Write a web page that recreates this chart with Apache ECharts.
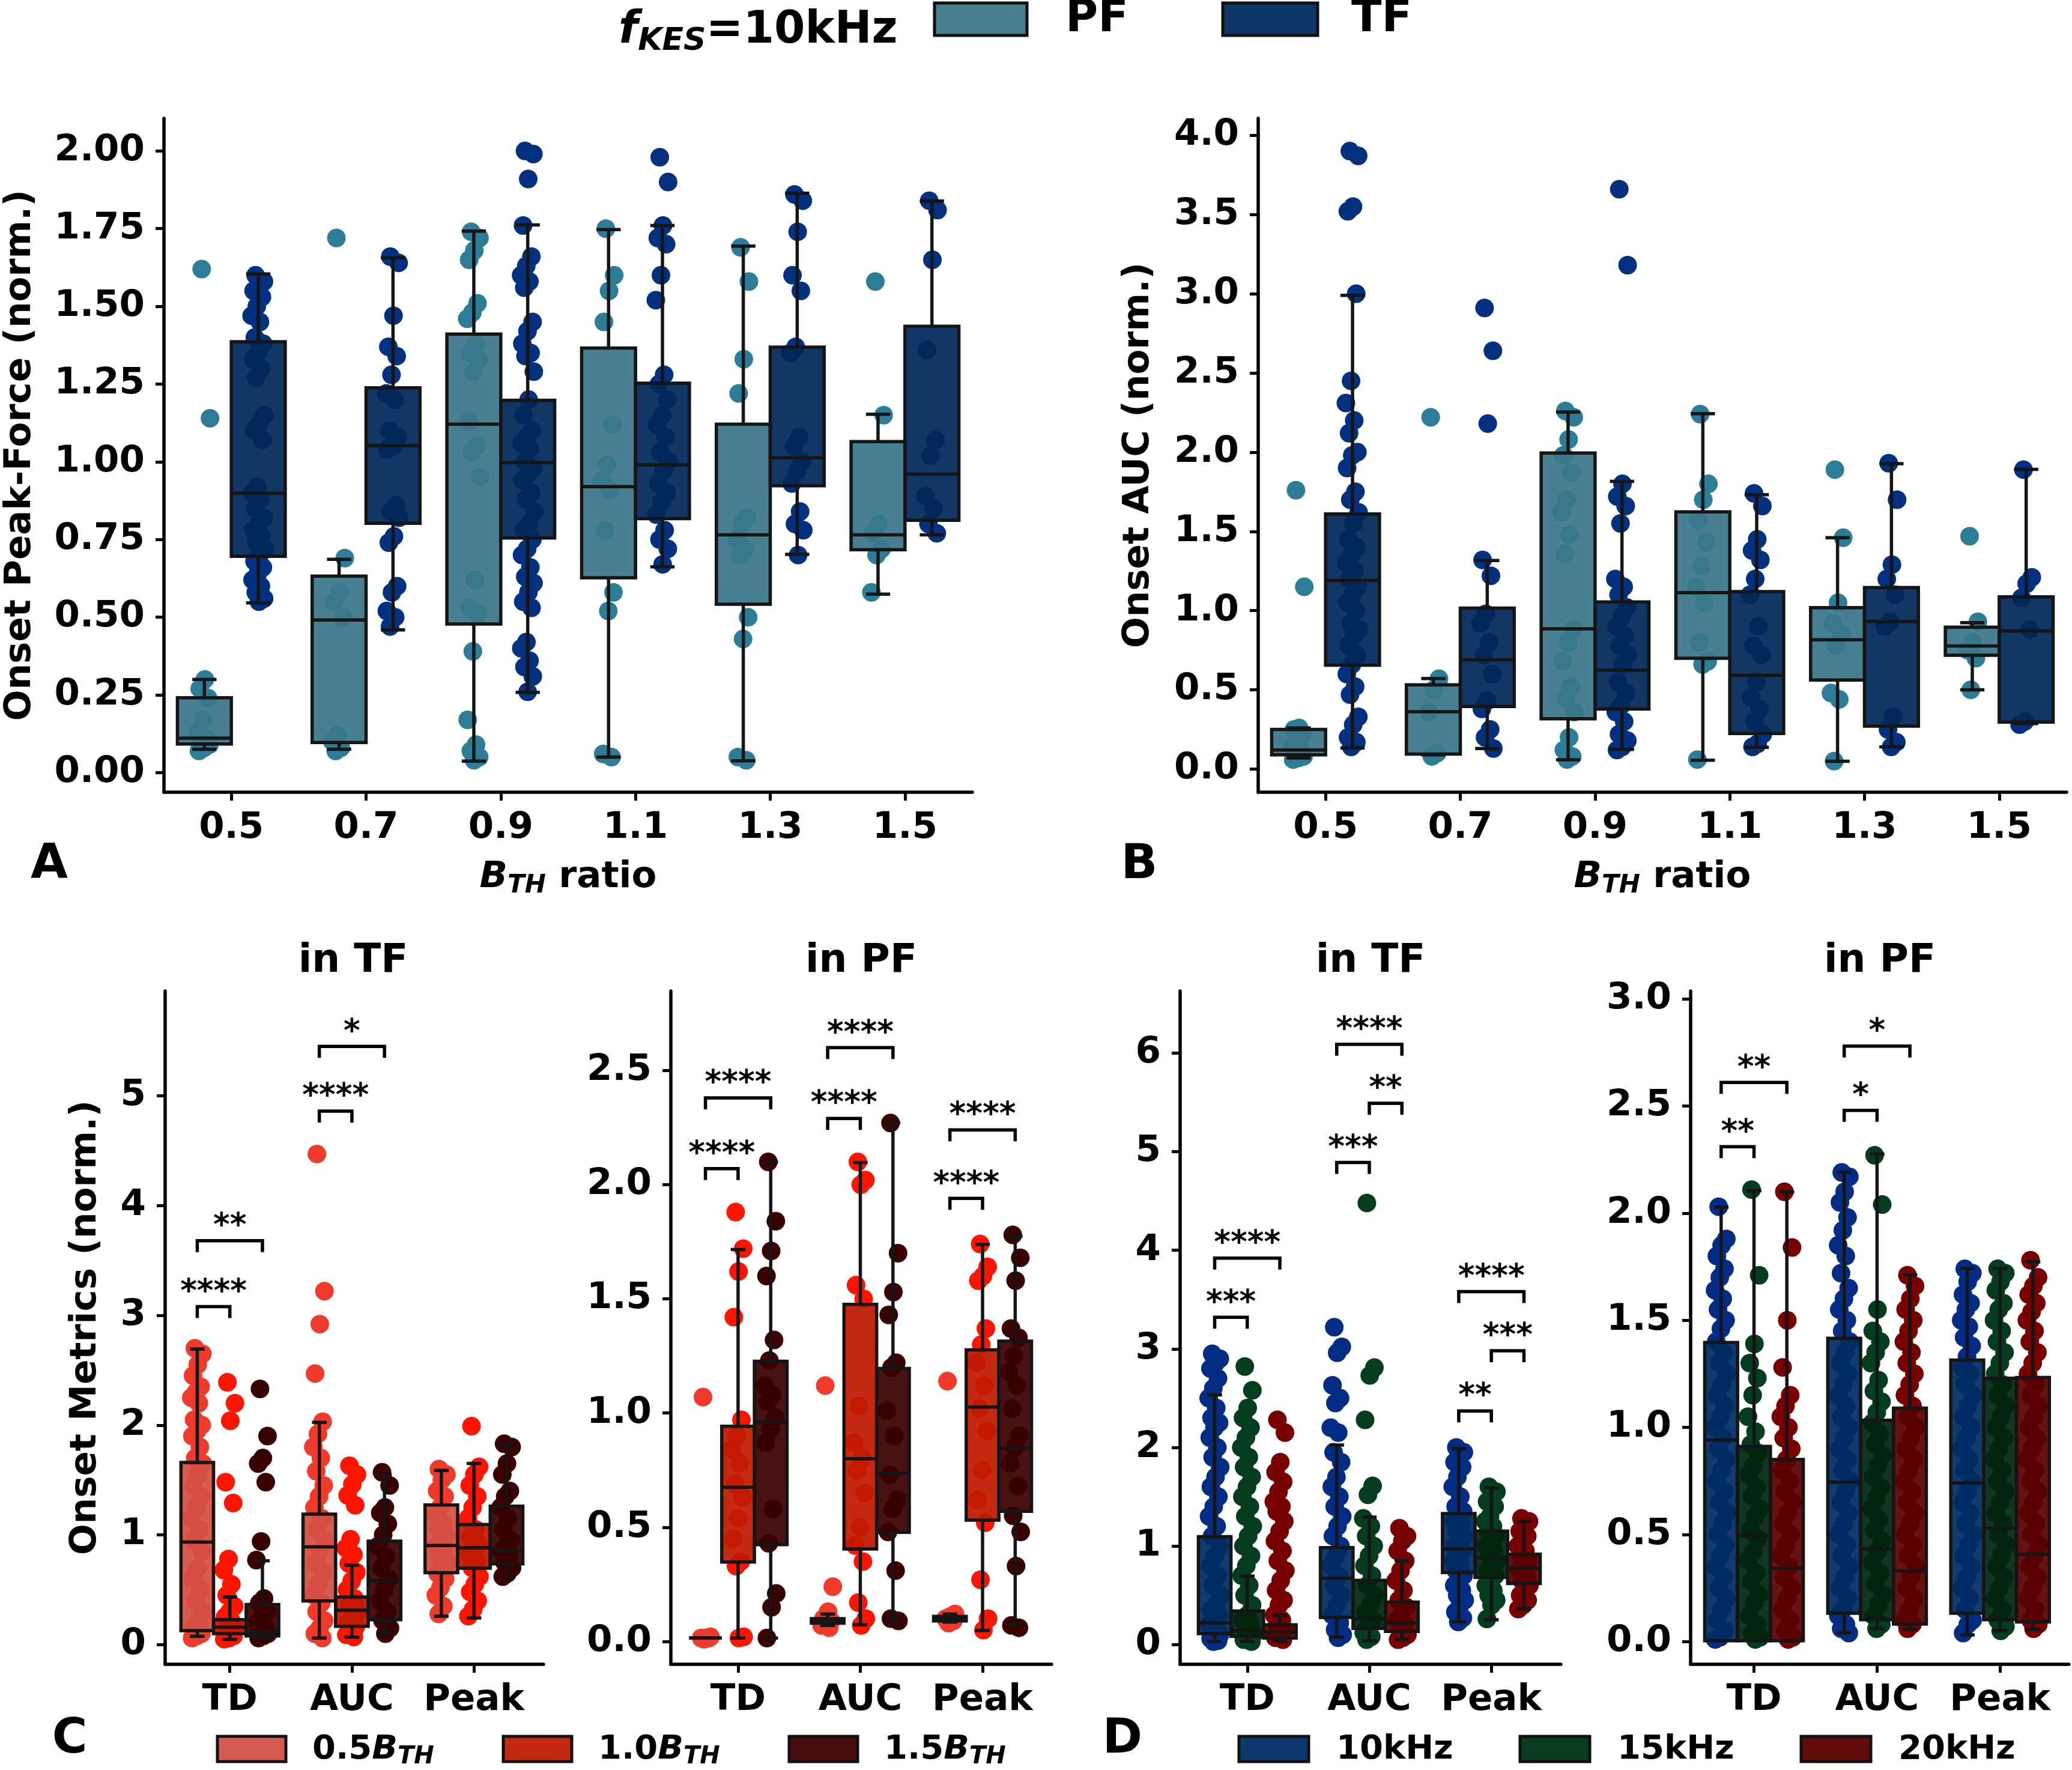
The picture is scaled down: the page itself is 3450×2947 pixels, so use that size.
<!DOCTYPE html>
<html>
<head>
<meta charset="utf-8">
<script src="https://cdn.jsdelivr.net/npm/echarts@6/dist/echarts.min.js"></script>
<style>
  html, body { margin: 0; background: #fff; }
  #chart { width: 3450px; height: 2947px; }
</style>
</head>
<body>
<div id="chart"></div>
<script>
// ===== panels A / B : onset metrics vs B_TH ratio =====
const ratioLabels = ['0.5', '0.7', '0.9', '1.1', '1.3', '1.5'];
const metricLabels = ['TD', 'AUC', 'Peak'];

// box stats: [lower whisker, q1, median, q3, upper whisker]
const peakBoxPF = [[0.075, 0.092, 0.111, 0.241, 0.30], [0.075, 0.097, 0.491, 0.632, 0.686], [0.037, 0.478, 1.121, 1.411, 1.742],
  [0.05, 0.627, 0.92, 1.366, 1.747], [0.038, 0.542, 0.765, 1.121, 1.694], [0.574, 0.717, 0.765, 1.065, 1.153]];
const peakBoxTF = [[0.546, 0.696, 0.899, 1.386, 1.604], [0.459, 0.802, 1.052, 1.238, 1.656], [0.258, 0.755, 0.998, 1.198, 1.762],
  [0.662, 0.817, 0.99, 1.253, 1.76], [0.702, 0.923, 1.013, 1.369, 1.864], [0.765, 0.812, 0.96, 1.436, 1.839]];
const aucBoxPF = [[0.07, 0.09, 0.12, 0.25, 0.26], [0.09, 0.095, 0.362, 0.532, 0.571], [0.059, 0.317, 0.885, 1.995, 2.253],
  [0.056, 0.699, 1.113, 1.623, 2.243], [0.049, 0.562, 0.816, 1.019, 1.46], [0.5, 0.718, 0.777, 0.895, 0.924]];
const aucBoxTF = [[0.134, 0.656, 1.19, 1.61, 2.99], [0.13, 0.395, 0.689, 1.016, 1.316], [0.124, 0.379, 0.624, 1.055, 1.816],
  [0.137, 0.225, 0.591, 1.12, 1.731], [0.14, 0.271, 0.931, 1.146, 1.927], [0.287, 0.297, 0.872, 1.087, 1.891]];

// individual trials
const peakPtsPF = [
  [1.62, 1.14, 0.30, 0.27, 0.24, 0.17, 0.13, 0.11, 0.10, 0.09, 0.08, 0.07],
  [1.72, 0.69, 0.58, 0.55, 0.50, 0.12, 0.10, 0.08, 0.07],
  [1.74, 1.72, 1.68, 1.65, 1.51, 1.48, 1.46, 1.38, 1.35, 1.33, 1.29, 1.13, 1.05, 1.03, 0.95, 0.62, 0.53, 0.51, 0.39, 0.17, 0.09, 0.07, 0.05, 0.04],
  [1.75, 1.60, 1.55, 1.45, 1.12, 0.99, 0.94, 0.91, 0.78, 0.58, 0.52, 0.06, 0.05],
  [1.69, 1.58, 1.33, 1.22, 0.82, 0.80, 0.75, 0.72, 0.70, 0.50, 0.43, 0.05, 0.04],
  [1.58, 1.15, 0.80, 0.77, 0.72, 0.70, 0.58]
];
const peakPtsTF = [
  [1.60, 1.58, 1.56, 1.55, 1.53, 1.50, 1.47, 1.45, 1.40, 1.38, 1.35, 1.33, 1.30, 1.27, 1.15, 1.12, 1.10, 1.07, 0.92, 0.90, 0.88, 0.85, 0.82, 0.80, 0.78, 0.76, 0.74, 0.72, 0.70, 0.68, 0.66, 0.64, 0.62, 0.60, 0.58, 0.56, 0.55],
  [1.66, 1.64, 1.47, 1.37, 1.34, 1.28, 1.22, 1.20, 1.10, 1.08, 1.05, 1.04, 0.86, 0.84, 0.82, 0.76, 0.74, 0.60, 0.58, 0.52, 0.50, 0.47],
  [2.00, 1.99, 1.91, 1.76, 1.66, 1.63, 1.60, 1.58, 1.56, 1.45, 1.42, 1.38, 1.35, 1.34, 1.29, 1.20, 1.15, 1.10, 1.08, 1.06, 1.04, 1.00, 0.98, 0.96, 0.94, 0.90, 0.88, 0.84, 0.80, 0.78, 0.75, 0.72, 0.70, 0.66, 0.63, 0.61, 0.58, 0.55, 0.53, 0.42, 0.40, 0.36, 0.34, 0.31, 0.26],
  [1.98, 1.90, 1.76, 1.72, 1.70, 1.60, 1.52, 1.28, 1.25, 1.20, 1.15, 1.12, 1.08, 1.03, 1.00, 0.97, 0.93, 0.90, 0.87, 0.83, 0.78, 0.75, 0.72, 0.67],
  [1.86, 1.84, 1.74, 1.60, 1.55, 1.37, 1.35, 1.08, 1.05, 1.00, 0.97, 0.93, 0.84, 0.80, 0.78, 0.70],
  [1.84, 1.81, 1.65, 1.36, 1.07, 1.02, 0.89, 0.85, 0.80, 0.77]
];
const aucPtsPF = [
  [1.76, 1.15, 0.26, 0.25, 0.22, 0.18, 0.14, 0.12, 0.10, 0.08, 0.07, 0.06],
  [2.22, 0.57, 0.50, 0.36, 0.10, 0.08],
  [2.26, 2.22, 2.08, 1.98, 1.87, 1.70, 1.62, 1.48, 1.36, 0.88, 0.80, 0.68, 0.52, 0.45, 0.36, 0.20, 0.12, 0.08, 0.06],
  [2.24, 1.80, 1.70, 1.57, 1.43, 1.28, 1.15, 1.05, 0.80, 0.68, 0.66, 0.06],
  [1.89, 1.46, 1.05, 0.92, 0.85, 0.78, 0.48, 0.44, 0.05],
  [1.47, 0.93, 0.80, 0.75, 0.70, 0.50]
];
const aucPtsTF = [
  [3.90, 3.87, 3.55, 3.52, 3.00, 2.45, 2.31, 2.20, 2.12, 2.00, 1.98, 1.90, 1.75, 1.70, 1.62, 1.55, 1.45, 1.40, 1.35, 1.30, 1.25, 1.20, 1.15, 1.10, 1.05, 1.00, 0.92, 0.88, 0.84, 0.78, 0.72, 0.66, 0.60, 0.52, 0.47, 0.33, 0.28, 0.20, 0.17, 0.14],
  [2.91, 2.64, 2.18, 1.32, 1.22, 0.98, 0.92, 0.80, 0.72, 0.60, 0.43, 0.38, 0.25, 0.20, 0.13],
  [3.66, 3.18, 1.80, 1.72, 1.66, 1.55, 1.20, 1.15, 1.10, 1.02, 0.96, 0.90, 0.84, 0.78, 0.72, 0.66, 0.55, 0.48, 0.40, 0.36, 0.30, 0.22, 0.18, 0.14, 0.12],
  [1.74, 1.66, 1.45, 1.38, 1.32, 1.20, 1.10, 0.90, 0.78, 0.72, 0.55, 0.45, 0.38, 0.30, 0.22, 0.16, 0.14],
  [1.93, 1.70, 1.29, 1.20, 1.10, 0.93, 0.90, 0.33, 0.25, 0.17, 0.14],
  [1.89, 1.21, 1.17, 1.08, 0.88, 0.30, 0.28]
];

// ===== panel C : 0.5 / 1.0 / 1.5 B_TH, per metric [TD, AUC, Peak] =====
const cTfBox05 = [[0.076, 0.127, 0.935, 1.659, 2.693], [0.06, 0.398, 0.891, 1.189, 2.025], [0.259, 0.656, 0.903, 1.273, 1.587]];
const cTfBox10 = [[0.048, 0.10, 0.159, 0.227, 0.434], [0.068, 0.167, 0.314, 0.434, 0.724], [0.243, 0.696, 0.883, 1.094, 1.651]];
const cTfBox15 = [[0.06, 0.08, 0.119, 0.366, 0.764], [0.10, 0.227, 0.581, 0.943, 1.547], [0.605, 0.736, 0.855, 1.261, 1.826]];
const cPfBox05 = [[0.015, 0.015, 0.015, 0.015, 0.015], [0.07, 0.08, 0.09, 0.10, 0.12], [0.085, 0.09, 0.10, 0.11, 0.12]];
const cPfBox10 = [[0.015, 0.348, 0.675, 0.942, 1.716], [0.073, 0.405, 0.80, 1.476, 2.097], [0.048, 0.531, 1.026, 1.277, 1.739]];
const cPfBox15 = [[0.015, 0.424, 0.961, 1.227, 2.10], [0.096, 0.478, 0.736, 1.195, 2.27], [0.073, 0.57, 0.845, 1.315, 1.774]];

const cTfPts05 = [
  [2.70, 2.65, 2.55, 2.45, 2.35, 2.30, 2.25, 2.20, 2.05, 2.00, 1.95, 1.90, 1.80, 1.70, 1.65, 1.55, 1.45, 1.35, 1.25, 1.15, 1.05, 0.95, 0.85, 0.70, 0.60, 0.50, 0.40, 0.30, 0.22, 0.15, 0.10, 0.08, 0.06],
  [4.47, 3.22, 2.92, 2.47, 2.03, 1.92, 1.80, 1.70, 1.58, 1.45, 1.35, 1.25, 1.15, 1.05, 0.95, 0.85, 0.75, 0.65, 0.55, 0.45, 0.38, 0.30, 0.22, 0.15, 0.10, 0.06],
  [1.60, 1.55, 1.50, 1.40, 1.35, 1.25, 1.20, 1.10, 1.05, 1.00, 0.95, 0.90, 0.85, 0.80, 0.75, 0.70, 0.65, 0.60, 0.52, 0.45, 0.35, 0.28]
];
const cTfPts10 = [
  [2.39, 2.20, 2.04, 1.48, 1.29, 0.78, 0.68, 0.55, 0.45, 0.35, 0.30, 0.25, 0.20, 0.17, 0.15, 0.12, 0.10, 0.08, 0.06, 0.05],
  [1.63, 1.55, 1.46, 1.36, 1.27, 0.96, 0.88, 0.82, 0.74, 0.66, 0.58, 0.50, 0.42, 0.36, 0.30, 0.25, 0.20, 0.16, 0.12, 0.09, 0.07],
  [1.99, 1.62, 1.55, 1.45, 1.35, 1.25, 1.15, 1.05, 0.98, 0.92, 0.88, 0.82, 0.76, 0.70, 0.62, 0.55, 0.48, 0.40, 0.32, 0.26]
];
const cTfPts15 = [
  [2.33, 1.90, 1.70, 1.65, 1.48, 0.94, 0.77, 0.42, 0.38, 0.30, 0.25, 0.20, 0.16, 0.12, 0.10, 0.08, 0.06],
  [1.57, 1.45, 1.25, 1.20, 1.10, 1.00, 0.90, 0.80, 0.70, 0.60, 0.50, 0.40, 0.30, 0.22, 0.15, 0.10],
  [1.83, 1.80, 1.65, 1.55, 1.40, 1.35, 1.25, 1.15, 1.05, 0.95, 0.90, 0.85, 0.80, 0.75, 0.70, 0.65, 0.62]
];
const cPfPts05 = [
  [1.07, 0.02, 0.015, 0.015, 0.015, 0.01],
  [1.12, 0.24, 0.13, 0.10, 0.09, 0.08, 0.07, 0.06],
  [1.14, 0.12, 0.11, 0.10, 0.09, 0.08]
];
const cPfPts10 = [
  [1.88, 1.72, 1.62, 1.42, 0.97, 0.90, 0.84, 0.78, 0.69, 0.63, 0.54, 0.45, 0.35, 0.33, 0.02, 0.015],
  [2.10, 2.02, 2.00, 1.56, 1.50, 1.03, 0.87, 0.80, 0.75, 0.65, 0.50, 0.42, 0.35, 0.17, 0.10, 0.07],
  [1.74, 1.64, 1.60, 1.58, 1.37, 1.30, 1.22, 1.12, 1.02, 0.92, 0.75, 0.62, 0.52, 0.27, 0.10, 0.05]
];
const cPfPts15 = [
  [2.10, 1.84, 1.71, 1.60, 1.32, 1.23, 1.12, 1.08, 1.05, 0.98, 0.93, 0.87, 0.58, 0.43, 0.21, 0.15, 0.015],
  [2.27, 1.70, 1.53, 1.43, 1.22, 1.20, 1.01, 0.90, 0.73, 0.62, 0.58, 0.48, 0.31, 0.10, 0.09],
  [1.78, 1.68, 1.58, 1.37, 1.33, 1.25, 1.18, 1.12, 1.02, 0.90, 0.85, 0.78, 0.68, 0.55, 0.48, 0.33, 0.07, 0.06]
];
// significance brackets: [metric, hue from, hue to, height]
const cTfBrackets = [[0, 0, 1, 3.08], [0, 0, 2, 3.68], [1, 0, 1, 4.86], [1, 0, 2, 5.45]];
const cTfStars = ['****', '**', '****', '*'];
const cPfBrackets = [[0, 0, 1, 2.07], [0, 0, 2, 2.38], [1, 0, 1, 2.29], [1, 0, 2, 2.60], [2, 0, 1, 1.94], [2, 0, 2, 2.24]];
const cPfStars = ['****', '****', '****', '****', '****', '****'];

// ===== panel D : 10 / 15 / 20 kHz =====
const dTfBox10 = [[0.031, 0.111, 0.221, 1.094, 2.533], [0.075, 0.275, 0.673, 0.983, 2.024], [0.23, 0.731, 0.97, 1.329, 1.988]];
const dTfBox15 = [[0.031, 0.084, 0.142, 0.341, 0.695], [0.04, 0.164, 0.261, 0.651, 1.293], [0.252, 0.682, 0.881, 1.151, 1.59]];
const dTfBox20 = [[0.031, 0.066, 0.128, 0.20, 0.297], [0.053, 0.133, 0.221, 0.43, 0.85], [0.363, 0.62, 0.775, 0.917, 1.249]];
const dPfBox10 = [[0.004, 0.004, 0.941, 1.396, 2.028], [0.041, 0.132, 0.744, 1.416, 2.191], [0.031, 0.132, 0.74, 1.314, 1.742]];
const dPfBox15 = [[0.004, 0.004, 0.493, 0.911, 2.105], [0.061, 0.102, 0.432, 1.033, 2.276], [0.051, 0.102, 0.53, 1.229, 1.742]];
const dPfBox20 = [[0.004, 0.004, 0.342, 0.85, 2.099], [0.057, 0.082, 0.33, 1.09, 1.712], [0.057, 0.092, 0.408, 1.233, 1.773]];

const dTfPts10 = [
  [2.95, 2.90, 2.85, 2.80, 2.70, 2.60, 2.50, 2.40, 2.30, 2.25, 2.20, 2.10, 2.00, 1.90, 1.80, 1.70, 1.60, 1.50, 1.40, 1.30, 1.20, 1.10, 1.00, 0.90, 0.80, 0.70, 0.60, 0.50, 0.40, 0.35, 0.30, 0.25, 0.20, 0.15, 0.12, 0.10, 0.08, 0.06, 0.04, 0.03],
  [3.22, 3.02, 2.96, 2.63, 2.50, 2.45, 2.20, 2.15, 1.95, 1.85, 1.70, 1.60, 1.50, 1.40, 1.30, 1.20, 1.10, 1.00, 0.90, 0.80, 0.70, 0.60, 0.50, 0.40, 0.30, 0.22, 0.15, 0.10, 0.07],
  [2.00, 1.95, 1.90, 1.85, 1.80, 1.70, 1.60, 1.50, 1.40, 1.35, 1.30, 1.25, 1.20, 1.15, 1.10, 1.05, 1.00, 0.95, 0.90, 0.85, 0.80, 0.75, 0.70, 0.65, 0.60, 0.55, 0.50, 0.45, 0.40, 0.33, 0.27, 0.23]
];
const dTfPts15 = [
  [2.82, 2.58, 2.40, 2.30, 2.20, 2.10, 2.00, 1.90, 1.80, 1.70, 1.60, 1.50, 1.40, 1.30, 1.20, 1.10, 1.00, 0.90, 0.80, 0.70, 0.60, 0.50, 0.40, 0.30, 0.25, 0.20, 0.15, 0.10, 0.07, 0.05, 0.03],
  [4.48, 2.81, 2.73, 2.28, 1.61, 1.52, 1.28, 1.20, 1.10, 1.00, 0.90, 0.80, 0.70, 0.60, 0.50, 0.40, 0.32, 0.25, 0.18, 0.12, 0.08, 0.05],
  [1.60, 1.55, 1.50, 1.45, 1.40, 1.30, 1.25, 1.20, 1.15, 1.10, 1.05, 1.00, 0.95, 0.90, 0.85, 0.80, 0.75, 0.70, 0.65, 0.60, 0.55, 0.50, 0.45, 0.40, 0.26]
];
const dTfPts20 = [
  [2.28, 2.15, 1.85, 1.75, 1.65, 1.55, 1.45, 1.40, 1.35, 1.25, 1.15, 1.05, 0.95, 0.85, 0.75, 0.65, 0.55, 0.45, 0.40, 0.30, 0.25, 0.20, 0.15, 0.10, 0.07, 0.05],
  [1.18, 1.10, 1.05, 0.95, 0.85, 0.75, 0.65, 0.55, 0.45, 0.38, 0.30, 0.25, 0.20, 0.15, 0.10, 0.07, 0.05],
  [1.28, 1.25, 1.20, 1.15, 1.10, 1.05, 1.00, 0.95, 0.90, 0.85, 0.80, 0.75, 0.70, 0.65, 0.60, 0.55, 0.50, 0.45, 0.40, 0.36]
];
const dPfPts10 = [
  [2.03, 1.88, 1.85, 1.80, 1.74, 1.70, 1.64, 1.60, 1.55, 1.50, 1.46, 1.40, 1.35, 1.30, 1.25, 1.20, 1.15, 1.10, 1.05, 1.00, 0.95, 0.90, 0.85, 0.80, 0.75, 0.70, 0.65, 0.60, 0.55, 0.50, 0.45, 0.40, 0.35, 0.30, 0.25, 0.20, 0.15, 0.10, 0.05, 0.02, 0.01],
  [2.19, 2.17, 2.10, 2.05, 1.98, 1.92, 1.85, 1.80, 1.72, 1.65, 1.60, 1.55, 1.50, 1.45, 1.40, 1.35, 1.30, 1.25, 1.20, 1.15, 1.10, 1.05, 1.00, 0.95, 0.90, 0.85, 0.80, 0.75, 0.70, 0.65, 0.60, 0.55, 0.50, 0.45, 0.40, 0.35, 0.30, 0.25, 0.20, 0.15, 0.12, 0.08, 0.06, 0.04],
  [1.74, 1.72, 1.68, 1.62, 1.58, 1.55, 1.50, 1.47, 1.42, 1.38, 1.33, 1.28, 1.25, 1.20, 1.15, 1.10, 1.05, 1.00, 0.95, 0.90, 0.85, 0.80, 0.75, 0.70, 0.65, 0.60, 0.55, 0.50, 0.45, 0.40, 0.35, 0.30, 0.25, 0.20, 0.15, 0.10, 0.08, 0.04]
];
const dPfPts15 = [
  [2.11, 1.71, 1.39, 1.30, 1.23, 1.15, 1.05, 0.98, 0.92, 0.88, 0.82, 0.78, 0.72, 0.68, 0.62, 0.58, 0.52, 0.48, 0.42, 0.38, 0.32, 0.28, 0.22, 0.18, 0.12, 0.08, 0.04, 0.02, 0.01],
  [2.27, 2.04, 1.55, 1.45, 1.40, 1.35, 1.30, 1.22, 1.17, 1.12, 1.07, 1.02, 0.97, 0.92, 0.87, 0.82, 0.77, 0.72, 0.67, 0.62, 0.57, 0.52, 0.47, 0.42, 0.37, 0.32, 0.27, 0.22, 0.17, 0.12, 0.08, 0.06],
  [1.74, 1.72, 1.68, 1.64, 1.58, 1.55, 1.50, 1.45, 1.40, 1.35, 1.30, 1.25, 1.20, 1.15, 1.10, 1.05, 1.00, 0.95, 0.90, 0.85, 0.80, 0.75, 0.70, 0.65, 0.60, 0.55, 0.50, 0.45, 0.40, 0.35, 0.30, 0.25, 0.20, 0.15, 0.10, 0.07, 0.05]
];
const dPfPts20 = [
  [2.10, 1.84, 1.50, 1.28, 1.15, 1.10, 1.05, 1.00, 0.95, 0.90, 0.85, 0.80, 0.75, 0.70, 0.65, 0.60, 0.55, 0.50, 0.45, 0.40, 0.35, 0.30, 0.25, 0.20, 0.15, 0.10, 0.05, 0.02, 0.01],
  [1.71, 1.66, 1.60, 1.55, 1.50, 1.45, 1.40, 1.35, 1.30, 1.25, 1.20, 1.15, 1.10, 1.05, 1.00, 0.95, 0.90, 0.85, 0.80, 0.75, 0.70, 0.65, 0.60, 0.55, 0.50, 0.45, 0.40, 0.35, 0.30, 0.25, 0.20, 0.15, 0.10, 0.08, 0.06],
  [1.78, 1.70, 1.66, 1.62, 1.58, 1.54, 1.50, 1.45, 1.40, 1.35, 1.30, 1.25, 1.20, 1.15, 1.10, 1.05, 1.00, 0.95, 0.90, 0.85, 0.80, 0.75, 0.70, 0.65, 0.60, 0.55, 0.50, 0.45, 0.40, 0.35, 0.30, 0.25, 0.20, 0.15, 0.10, 0.08, 0.06]
];
const dTfBrackets = [[0, 0, 1, 3.32], [0, 0, 2, 3.92], [1, 0, 1, 4.89], [1, 1, 2, 5.49], [1, 0, 2, 6.09],
  [2, 0, 1, 2.37], [2, 1, 2, 2.98], [2, 0, 2, 3.58]];
const dTfStars = ['***', '****', '***', '**', '****', '**', '***', '****'];
const dPfBrackets = [[0, 0, 1, 2.31], [0, 0, 2, 2.61], [1, 0, 1, 2.48], [1, 0, 2, 2.78]];
const dPfStars = ['**', '**', '*', '*'];

// ===== styling =====
const FONT = 'DejaVu Sans';
const EDGE = '#151515';
const HUE2 = [-0.2, 0.2];
const HUE3 = [-0.267, 0, 0.267];

// deterministic strip jitter
function jit(k, J) {
  return (((k * 0.618034 + 0.3) % 1) - 0.5) * 2 * J;
}

function strip(gi, pts, off, color, J) {
  const data = [];
  pts.forEach((arr, i) => arr.forEach((v, k) => data.push([i + off + jit(k, J), v])));
  return {
    type: 'scatter', xAxisIndex: gi, yAxisIndex: gi, data: data, z: 2,
    symbolSize: 31, itemStyle: { color: color, opacity: 1 }, silent: true
  };
}

function boxes(gi, stats, off, fill, w) {
  return {
    type: 'custom', xAxisIndex: gi, yAxisIndex: gi, z: 3, silent: true,
    data: stats.map((s, i) => [i + off].concat(s)),
    encode: { x: 0, y: [1, 2, 3, 4, 5] },
    renderItem: function (params, api) {
      const x = api.value(0);
      const p = [1, 2, 3, 4, 5].map(d => api.coord([x, api.value(d)]));
      const cx = p[0][0];
      const bw = api.size([w, 0])[0];
      const cw = bw * 0.45;
      const ln = { stroke: EDGE, lineWidth: 5.5 };
      return {
        type: 'group', children: [
          { type: 'line', shape: { x1: cx, y1: p[4][1], x2: cx, y2: p[3][1] }, style: ln },
          { type: 'line', shape: { x1: cx, y1: p[1][1], x2: cx, y2: p[0][1] }, style: ln },
          { type: 'line', shape: { x1: cx - cw / 2, y1: p[4][1], x2: cx + cw / 2, y2: p[4][1] }, style: ln },
          { type: 'line', shape: { x1: cx - cw / 2, y1: p[0][1], x2: cx + cw / 2, y2: p[0][1] }, style: ln },
          { type: 'rect', shape: { x: cx - bw / 2, y: p[3][1], width: bw, height: p[1][1] - p[3][1] },
            style: { fill: fill, stroke: EDGE, lineWidth: 5.5 } },
          { type: 'line', shape: { x1: cx - bw / 2, y1: p[2][1], x2: cx + bw / 2, y2: p[2][1] }, style: ln }
        ]
      };
    }
  };
}

function brackets(gi, items, stars) {
  return {
    type: 'custom', xAxisIndex: gi, yAxisIndex: gi, z: 4, silent: true,
    data: items.map(b => [b[0] + HUE3[b[1]], b[0] + HUE3[b[2]], b[3]]),
    encode: { x: [0, 1], y: 2 },
    renderItem: function (params, api) {
      const a = api.coord([api.value(0), api.value(2)]);
      const b = api.coord([api.value(1), api.value(2)]);
      const leg = 19;
      return {
        type: 'group', children: [
          { type: 'polyline', shape: { points: [[a[0], a[1] + leg], [a[0], a[1]], [b[0], a[1]], [b[0], a[1] + leg]] },
            style: { stroke: '#000', lineWidth: 5.5, fill: null } },
          { type: 'text', x: (a[0] + b[0]) / 2, y: a[1] + 4,
            style: { text: stars[params.dataIndex], fill: '#000', font: 'bold 53px "DejaVu Sans"', align: 'center', verticalAlign: 'bottom' } }
        ]
      };
    }
  };
}

const labelStyle = { color: '#000', fontSize: 61, fontWeight: 'bold', fontFamily: FONT };

function xAx(gi, min, max, labels, name) {
  const ticks = labels.map((_, i) => i);
  const ax = {
    type: 'value', gridIndex: gi, min: min, max: max,
    axisLine: { show: true, onZero: false, lineStyle: { color: '#000', width: 5.5 } },
    axisTick: { show: true, customValues: ticks, length: 14, lineStyle: { color: '#000', width: 5 } },
    axisLabel: Object.assign({ customValues: ticks, formatter: v => labels[Math.round(v)], margin: 30 }, labelStyle),
    splitLine: { show: false }
  };
  if (name) {
    ax.name = '{bi|B}{sub|TH}{n| ratio}';
    ax.nameLocation = 'middle';
    ax.nameGap = 107;
    ax.nameTextStyle = {
      rich: {
        bi: { fontSize: 61, fontWeight: 'bold', fontStyle: 'italic', fontFamily: FONT, color: '#000', lineHeight: 70 },
        sub: { fontSize: 42, fontWeight: 'bold', fontStyle: 'italic', fontFamily: FONT, color: '#000', lineHeight: 42, verticalAlign: 'bottom' },
        n: { fontSize: 61, fontWeight: 'bold', fontFamily: FONT, color: '#000', lineHeight: 70 }
      }
    };
  }
  return ax;
}

function yAx(gi, min, max, ticks, digits, name, gap) {
  const ax = {
    type: 'value', gridIndex: gi, min: min, max: max,
    axisLine: { show: true, onZero: false, lineStyle: { color: '#000', width: 5.5 } },
    axisTick: { show: true, customValues: ticks, length: 14, lineStyle: { color: '#000', width: 5 } },
    axisLabel: Object.assign({ customValues: ticks, formatter: v => v.toFixed(digits), margin: 32 }, labelStyle),
    splitLine: { show: false }
  };
  if (name) {
    ax.name = name;
    ax.nameLocation = 'middle';
    ax.nameGap = gap;
    ax.nameTextStyle = labelStyle;
  }
  return ax;
}

// colours (box fills are nearly opaque so the strip dots show faintly through)
const PF_BOX = 'rgba(58,118,137,0.93)', TF_BOX = 'rgba(0,40,88,0.93)';
const PF_PT = '#2d7d97', TF_PT = '#03307f';
const C_BOX = ['rgba(212,80,67,0.93)', 'rgba(192,26,0,0.93)', 'rgba(58,0,0,0.93)'];
const C_PT = ['#f03a2c', '#ff1400', '#3a0000'];
const D_BOX = ['rgba(0,43,97,0.93)', 'rgba(0,37,15,0.93)', 'rgba(88,0,0,0.93)'];
const D_PT = ['#032d84', '#033c1f', '#780000'];
const C_LEG = ['#d75c50', '#c42a10', '#480c0c'];
const D_LEG = ['#0c3a6c', '#0a3c22', '#640c0c'];

const series = [
  strip(0, peakPtsPF, HUE2[0], PF_PT, 0.05), strip(0, peakPtsTF, HUE2[1], TF_PT, 0.05),
  boxes(0, peakBoxPF, HUE2[0], PF_BOX, 0.4), boxes(0, peakBoxTF, HUE2[1], TF_BOX, 0.4),
  strip(1, aucPtsPF, HUE2[0], PF_PT, 0.05), strip(1, aucPtsTF, HUE2[1], TF_PT, 0.05),
  boxes(1, aucBoxPF, HUE2[0], PF_BOX, 0.4), boxes(1, aucBoxTF, HUE2[1], TF_BOX, 0.4)
];
[[cTfPts05, cTfPts10, cTfPts15], [cPfPts05, cPfPts10, cPfPts15]].forEach((set, s) => {
  set.forEach((pts, h) => series.push(strip(2 + s, pts, HUE3[h], C_PT[h], 0.05)));
});
[[cTfBox05, cTfBox10, cTfBox15], [cPfBox05, cPfBox10, cPfBox15]].forEach((set, s) => {
  set.forEach((st, h) => series.push(boxes(2 + s, st, HUE3[h], C_BOX[h], 0.267)));
});
[[dTfPts10, dTfPts15, dTfPts20], [dPfPts10, dPfPts15, dPfPts20]].forEach((set, s) => {
  set.forEach((pts, h) => series.push(strip(4 + s, pts, HUE3[h], D_PT[h], 0.05)));
});
[[dTfBox10, dTfBox15, dTfBox20], [dPfBox10, dPfBox15, dPfBox20]].forEach((set, s) => {
  set.forEach((st, h) => series.push(boxes(4 + s, st, HUE3[h], D_BOX[h], 0.267)));
});
series.push(brackets(2, cTfBrackets, cTfStars), brackets(3, cPfBrackets, cPfStars),
  brackets(4, dTfBrackets, dTfStars), brackets(5, dPfBrackets, dPfStars));

// ----- free text: titles, panel letters, legends -----
function txt(x, y, text, size, align) {
  return {
    type: 'text', x: x, y: y,
    style: { text: text, fill: '#000', font: 'bold ' + size + 'px "DejaVu Sans"', align: align || 'center', verticalAlign: 'middle' }
  };
}
function patch(x, y, w, h, color) {
  return { type: 'rect', shape: { x: x, y: y, width: w, height: h }, style: { fill: color, stroke: '#111', lineWidth: 5 } };
}
const subRich = {
  n: { fontSize: 56, fontWeight: 'bold', fontFamily: FONT, fill: '#000', lineHeight: 66 },
  bi: { fontSize: 56, fontWeight: 'bold', fontStyle: 'italic', fontFamily: FONT, fill: '#000', lineHeight: 66 },
  sub: { fontSize: 40, fontWeight: 'bold', fontStyle: 'italic', fontFamily: FONT, fill: '#000', lineHeight: 40, verticalAlign: 'bottom' }
};
function richTxt(x, y, text, rich) {
  return { type: 'text', x: x, y: y, style: { text: text, rich: rich, align: 'left', verticalAlign: 'middle' } };
}
const bthLabels = ['0.5', '1.0', '1.5'];
const kHzLabels = ['10kHz', '15kHz', '20kHz'];
const graphics = [
  richTxt(1030, 52, '{fi|f}{sub|KES}{n|=10kHz}', {
    fi: { fontSize: 74, fontWeight: 'bold', fontStyle: 'italic', fontFamily: FONT, fill: '#000', lineHeight: 86 },
    sub: { fontSize: 52, fontWeight: 'bold', fontStyle: 'italic', fontFamily: FONT, fill: '#000', lineHeight: 52, verticalAlign: 'bottom' },
    n: { fontSize: 74, fontWeight: 'bold', fontFamily: FONT, fill: '#000', lineHeight: 86 }
  }),
  patch(1556, 5, 154, 54, '#48808f'), txt(1774, 33, 'PF', 74, 'left'),
  patch(2036, 5, 158, 54, '#0c3766'), txt(2250, 33, 'TF', 74, 'left'),
  txt(82, 1441, 'A', 80), txt(1897, 1441, 'B', 80), txt(116, 2897, 'C', 80), txt(1869, 2897, 'D', 80),
  txt(588, 1601, 'in TF', 66), txt(1434, 1601, 'in PF', 66), txt(2282, 1601, 'in TF', 66), txt(3130, 1601, 'in PF', 66)
];
[362, 838, 1314].forEach((x, i) => {
  graphics.push(patch(x, 2891, 114, 42, C_LEG[i]));
  graphics.push(richTxt(x + 158, 2913, '{n|' + bthLabels[i] + '}{bi|B}{sub|TH}', subRich));
});
[2063, 2531, 2999].forEach((x, i) => {
  graphics.push(patch(x, 2891, 116, 42, D_LEG[i]));
  graphics.push(richTxt(x + 162, 2913, '{n|' + kHzLabels[i] + '}', subRich));
});

const chart = echarts.init(document.getElementById('chart'));
chart.setOption({
  animation: false,
  backgroundColor: '#fff',
  grid: [
    { left: 273, top: 197, width: 1346, height: 1122, outerBoundsMode: 'none' },
    { left: 2095, top: 197, width: 1346, height: 1122, outerBoundsMode: 'none' },
    { left: 275, top: 1650, width: 630, height: 1121, outerBoundsMode: 'none' },
    { left: 1117, top: 1650, width: 634, height: 1121, outerBoundsMode: 'none' },
    { left: 1965, top: 1650, width: 634, height: 1121, outerBoundsMode: 'none' },
    { left: 2815, top: 1650, width: 630, height: 1121, outerBoundsMode: 'none' }
  ],
  xAxis: [
    xAx(0, -0.5, 5.5, ratioLabels, true),
    xAx(1, -0.5, 5.5, ratioLabels, true),
    xAx(2, -0.53, 2.57, metricLabels),
    xAx(3, -0.55, 2.565, metricLabels),
    xAx(4, -0.55, 2.57, metricLabels),
    xAx(5, -0.515, 2.56, metricLabels)
  ],
  yAxis: [
    yAx(0, -0.063, 2.105, [0, 0.25, 0.5, 0.75, 1, 1.25, 1.5, 1.75, 2], 2, 'Onset Peak-Force (norm.)', 208),
    yAx(1, -0.146, 4.107, [0, 0.5, 1, 1.5, 2, 2.5, 3, 3.5, 4], 1, 'Onset AUC (norm.)', 168),
    yAx(2, -0.179, 5.955, [0, 1, 2, 3, 4, 5], 0, 'Onset Metrics (norm.)', 101),
    yAx(3, -0.1, 2.848, [0, 0.5, 1, 1.5, 2, 2.5], 1),
    yAx(4, -0.2, 6.63, [0, 1, 2, 3, 4, 5, 6], 0),
    yAx(5, -0.106, 3.037, [0, 0.5, 1, 1.5, 2, 2.5, 3], 1)
  ],
  series: series,
  graphic: graphics
});
</script>
</body>
</html>
